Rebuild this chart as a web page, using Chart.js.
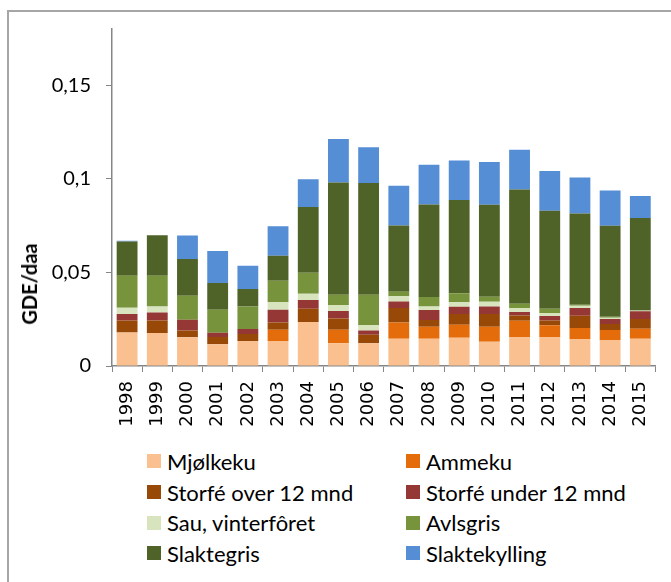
<!DOCTYPE html>
<html>
<head>
<meta charset="utf-8">
<script src="https://cdn.jsdelivr.net/npm/chart.js@4.4.0/dist/chart.umd.min.js"></script>
<style>
  html, body { margin: 0; padding: 0; background: #fff; }
  body { width: 671px; height: 582px; position: relative; overflow: hidden; }
  #frame { position: absolute; left: 7px; top: 10px; width: 700px; height: 620px; border: 2px solid #a6a6a6; box-sizing: border-box; }
  #c { position: absolute; left: 0; top: 0; }
  #ytitle { position: absolute; left: 29px; top: 284px; transform: translate(-50%, -50%) rotate(-90deg); font: bold 20px Lato, sans-serif; color: #000; white-space: nowrap; }
  #legend { position: absolute; left: 147px; top: 446px; display: grid; grid-template-columns: 259px 259px; grid-auto-rows: 30.7px; font: 22px Lato, sans-serif; color: #000; }
  .item { display: flex; align-items: center; white-space: nowrap; }
  .box { width: 14px; height: 14px; margin-right: 6px; flex: none; }
</style>
</head>
<body>
<div id="frame"></div>
<canvas id="c" width="671" height="440"></canvas>
<div id="ytitle">GDE/daa</div>
<div id="legend"></div>
<script>
const years = ['1998','1999','2000','2001','2002','2003','2004','2005','2006','2007','2008','2009','2010','2011','2012','2013','2014','2015'];
const seriesNames = ['Mjølkeku','Ammeku','Storfé over 12 mnd','Storfé under 12 mnd','Sau, vinterfôret','Avlsgris','Slaktegris','Slaktekylling'];
const seriesColors = ['#FAC090','#E46C0A','#984807','#953735','#D7E4BD','#77933C','#4F6228','#558ED5'];

const mjolkeku      = [0.0179,0.0176,0.0153,0.0116,0.0134,0.0134,0.0235,0.0121,0.0121,0.0146,0.0146,0.0151,0.0130,0.0155,0.0155,0.0144,0.0139,0.0146];
const ammeku        = [0,0,0,0,0,0.0060,0,0.0073,0,0.0087,0.0064,0.0069,0.0080,0.0087,0.0062,0.0059,0.0053,0.0053];
const storfeOver12  = [0.0064,0.0067,0.0037,0.0039,0.0037,0.0039,0.0071,0.0060,0.0046,0.0077,0.0036,0.0058,0.0068,0.0028,0.0026,0.0066,0.0032,0.0052];
const storfeUnder12 = [0.0035,0.0043,0.0057,0.0023,0.0027,0.0068,0.0046,0.0040,0.0023,0.0035,0.0053,0.0039,0.0040,0.0018,0.0024,0.0041,0.0027,0.0041];
const sau           = [0.0033,0.0032,0,0,0,0.0039,0.0034,0.0032,0.0027,0.0027,0.0019,0.0023,0.0025,0.0022,0.0016,0.0012,0.0007,0.0003];
const avlsgris      = [0.0171,0.0164,0.0128,0.0123,0.0120,0.0115,0.0112,0.0055,0.0164,0.0025,0.0050,0.0048,0.0027,0.0023,0.0023,0.0005,0.0005,0.0003];
const slaktegris    = [0.0183,0.0217,0.0196,0.0142,0.0093,0.0134,0.0351,0.0599,0.0596,0.0354,0.0495,0.0498,0.0491,0.0610,0.0523,0.0488,0.0486,0.0493];
const slaktekylling = [0.0004,0,0.0126,0.0171,0.0125,0.0158,0.0149,0.0232,0.0192,0.0212,0.0212,0.0212,0.0228,0.0212,0.0212,0.0192,0.0189,0.0117];

const yMax = 0.18;
const yStep = 0.05;

const seriesValues = [mjolkeku, ammeku, storfeOver12, storfeUnder12, sau, avlsgris, slaktegris, slaktekylling];

const datasets = seriesNames.map((name, i) => ({
  label: name,
  data: seriesValues[i],
  backgroundColor: seriesColors[i],
  borderWidth: 0,
  barPercentage: 0.69,
  categoryPercentage: 1.0
}));

const axisColor = '#868686';

const chart = new Chart(document.getElementById('c'), {
  type: 'bar',
  data: { labels: years, datasets },
  options: {
    responsive: false,
    animation: false,
    devicePixelRatio: 1,
    layout: { padding: { top: 29, right: 3, left: 0, bottom: 0 } },
    plugins: { legend: { display: false }, tooltip: { enabled: false } },
    scales: {
      x: {
        stacked: true,
        grid: { display: true, drawOnChartArea: false, drawTicks: true, tickLength: 6, color: axisColor, offset: true },
        border: { display: true, color: axisColor, width: 1.5 },
        ticks: {
          color: '#000',
          font: { family: 'DejaVu Sans', size: 18 },
          minRotation: 90, maxRotation: 90,
          padding: 9,
          autoSkip: false
        },
        afterFit: s => { s.height = 440 - 366; }
      },
      y: {
        stacked: true,
        min: 0, max: yMax,
        grid: { display: true, drawOnChartArea: false, drawTicks: true, tickLength: 6, color: axisColor },
        border: { display: true, color: axisColor, width: 1.5 },
        ticks: {
          stepSize: yStep,
          includeBounds: false,
          color: '#000',
          font: { family: 'Lato', size: 20 },
          padding: 15,
          callback: v => String(Math.round(v * 100) / 100).replace('.', ',')
        },
        afterFit: s => { s.width = 112; }
      }
    }
  }
});

const legend = document.getElementById('legend');
seriesNames.forEach((name, i) => {
  const it = document.createElement('div');
  it.className = 'item';
  const b = document.createElement('span');
  b.className = 'box';
  b.style.background = seriesColors[i];
  const t = document.createElement('span');
  t.textContent = name;
  it.appendChild(b); it.appendChild(t);
  legend.appendChild(it);
});
</script>
</body>
</html>
